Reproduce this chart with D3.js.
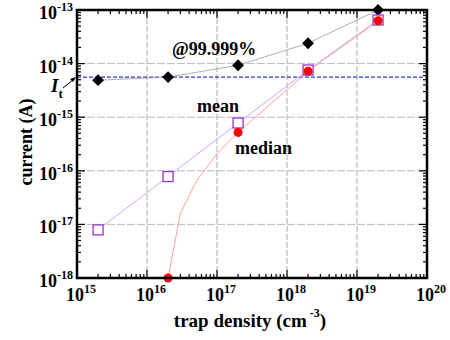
<!DOCTYPE html>
<html>
<head>
<meta charset="utf-8">
<script src="https://cdn.jsdelivr.net/npm/d3@7"></script>
<style>
  body { margin: 0; background: #fff; }
  text { font-family: "Liberation Serif", "DejaVu Serif", serif; font-weight: bold; fill: #000; }
</style>
</head>
<body>
<div id="chart"></div>
<script>
// data
var densities = [2e15, 2e16, 2e17, 2e18, 2e19];
var p99999 = [4.9e-15, 5.6e-15, 9.3e-15, 2.4e-14, 1.0e-13];
var meanVals = [7.9e-18, 7.8e-17, 7.8e-16, 7.6e-15, 6.5e-14];
var medianX = [2e16, 3e16, 5e16, 1e17, 2e17, 2e18, 2e19];
var medianVals = [1e-18, 1.6e-17, 6.2e-17, 2.1e-16, 5.2e-16, 7.2e-15, 6.3e-14];
var medianMarkX = [2e16, 2e17, 2e18, 2e19];
var medianMarkVals = [1e-18, 5.2e-16, 7.2e-15, 6.3e-14];
var It = 5.6e-15;
var xDecades = [15, 16, 17, 18, 19, 20];
var yDecades = [-18, -17, -16, -15, -14, -13];

var W = 450, H = 340;
var pl = 77, pr = 427, pt = 10, pb = 278;

var svg = d3.select("#chart").append("svg")
    .attr("width", W)
    .attr("height", H);

var x = d3.scaleLog().domain([1e15, 1e20]).range([pl, pr]);
var y = d3.scaleLog().domain([1e-18, 1e-13]).range([pb, pt]);

// grid
xDecades.slice(1, -1).forEach(function(d) {
    svg.append("line")
        .attr("x1", x(Math.pow(10, d))).attr("x2", x(Math.pow(10, d)))
        .attr("y1", pt).attr("y2", pb)
        .attr("stroke", "#999").attr("stroke-width", 0.8)
        .attr("stroke-dasharray", "6,2");
});
yDecades.slice(1, -1).forEach(function(d) {
    svg.append("line")
        .attr("x1", pl).attr("x2", pr)
        .attr("y1", y(Math.pow(10, d))).attr("y2", y(Math.pow(10, d)))
        .attr("stroke", "#aaa").attr("stroke-width", 0.8)
        .attr("stroke-dasharray", "8,2");
});

// ticks on all four sides, pointing in
var minorX = [], minorY = [];
xDecades.slice(0, -1).forEach(function(d) {
    for (var k = 2; k <= 9; k++) minorX.push(k * Math.pow(10, d));
});
yDecades.slice(0, -1).forEach(function(d) {
    for (var k = 2; k <= 9; k++) minorY.push(k * Math.pow(10, d));
});
var ticks = svg.append("g").attr("stroke", "#000").attr("stroke-width", 1.2);
function xtick(v, len) {
    ticks.append("line").attr("x1", x(v)).attr("x2", x(v)).attr("y1", pb).attr("y2", pb - len);
    ticks.append("line").attr("x1", x(v)).attr("x2", x(v)).attr("y1", pt).attr("y2", pt + len);
}
function ytick(v, len) {
    ticks.append("line").attr("y1", y(v)).attr("y2", y(v)).attr("x1", pl).attr("x2", pl + len);
    ticks.append("line").attr("y1", y(v)).attr("y2", y(v)).attr("x1", pr).attr("x2", pr - len);
}
minorX.forEach(function(v) { xtick(v, 4); });
minorY.forEach(function(v) { ytick(v, 4); });
xDecades.forEach(function(d) { xtick(Math.pow(10, d), 8); });
yDecades.forEach(function(d) { ytick(Math.pow(10, d), 8); });

// I_t line
svg.append("line")
    .attr("x1", pl).attr("x2", pr)
    .attr("y1", y(It)).attr("y2", y(It))
    .attr("stroke", "#0000cc").attr("stroke-width", 1)
    .attr("stroke-dasharray", "4,2");

var line = d3.line().x(function(d) { return x(d[0]); }).y(function(d) { return y(d[1]); });

// series lines
svg.append("path")
    .attr("d", line(d3.zip(densities, p99999)))
    .attr("fill", "none").attr("stroke", "#999").attr("stroke-width", 0.8);
svg.append("path")
    .attr("d", line(d3.zip(densities, meanVals)))
    .attr("fill", "none").attr("stroke", "#cfa6f7").attr("stroke-width", 1);
svg.append("path")
    .attr("d", line(d3.zip(medianX, medianVals)))
    .attr("fill", "none").attr("stroke", "#ffa0a0").attr("stroke-width", 1);

// markers
svg.selectAll(".dia").data(d3.zip(densities, p99999)).enter()
    .append("path")
    .attr("d", d3.symbol().type(d3.symbolSquare).size(70))
    .attr("transform", function(d) { return "translate(" + x(d[0]) + "," + y(d[1]) + ") rotate(45)"; })
    .attr("fill", "#000");
svg.selectAll(".sq").data(d3.zip(densities, meanVals)).enter()
    .append("rect")
    .attr("x", function(d) { return x(d[0]) - 5; })
    .attr("y", function(d) { return y(d[1]) - 5; })
    .attr("width", 10).attr("height", 10)
    .attr("fill", "#fff").attr("stroke", "#9933cc").attr("stroke-width", 1.3);
svg.selectAll(".circ").data(d3.zip(medianMarkX, medianMarkVals)).enter()
    .append("circle")
    .attr("cx", function(d) { return x(d[0]); })
    .attr("cy", function(d) { return y(d[1]); })
    .attr("r", 4.5)
    .attr("fill", "#ff0000");

// frame
svg.append("rect")
    .attr("x", pl).attr("y", pt)
    .attr("width", pr - pl).attr("height", pb - pt)
    .attr("fill", "none").attr("stroke", "#000").attr("stroke-width", 2.5);

// tick labels
xDecades.forEach(function(d) {
    var t = svg.append("text")
        .attr("x", x(Math.pow(10, d)) + 4).attr("y", 301)
        .attr("text-anchor", "middle").attr("font-size", 18);
    t.append("tspan").text("10");
    t.append("tspan").attr("font-size", 12).attr("dy", -8).text(d);
});
yDecades.forEach(function(d) {
    var t = svg.append("text")
        .attr("x", 73).attr("y", y(Math.pow(10, d)) + 9)
        .attr("text-anchor", "end").attr("font-size", 18);
    t.append("tspan").text("10");
    t.append("tspan").attr("font-size", 12).attr("dy", -8).text(d);
});

// axis titles
var xt = svg.append("text")
    .attr("x", 250).attr("y", 327)
    .attr("text-anchor", "middle").attr("font-size", 19);
xt.append("tspan").text("trap density (cm");
xt.append("tspan").attr("font-size", 12).attr("dx", 3).attr("dy", -10).text("-3");
xt.append("tspan").attr("dy", 10).text(")");

svg.append("text")
    .attr("transform", "translate(32,142) rotate(-90)")
    .attr("text-anchor", "middle").attr("font-size", 18)
    .text("current (A)");

// annotations
svg.append("text").attr("x", 172).attr("y", 55).attr("font-size", 18).text("@99.999%");
svg.append("text").attr("x", 197).attr("y", 112).attr("font-size", 18).text("mean");
svg.append("text").attr("x", 235).attr("y", 154).attr("font-size", 18).text("median");

var itl = svg.append("text").attr("x", 51).attr("y", 92).attr("font-size", 19);
itl.append("tspan").attr("font-style", "italic").text("I");
itl.append("tspan").attr("font-size", 13).attr("dy", 6).text("t");
svg.append("line")
    .attr("x1", 63).attr("y1", 88).attr("x2", 74).attr("y2", 79)
    .attr("stroke", "#000").attr("stroke-width", 1);
svg.append("path")
    .attr("d", "M76,77 L70,79 L73,82 Z")
    .attr("fill", "#000");
</script>
</body>
</html>
